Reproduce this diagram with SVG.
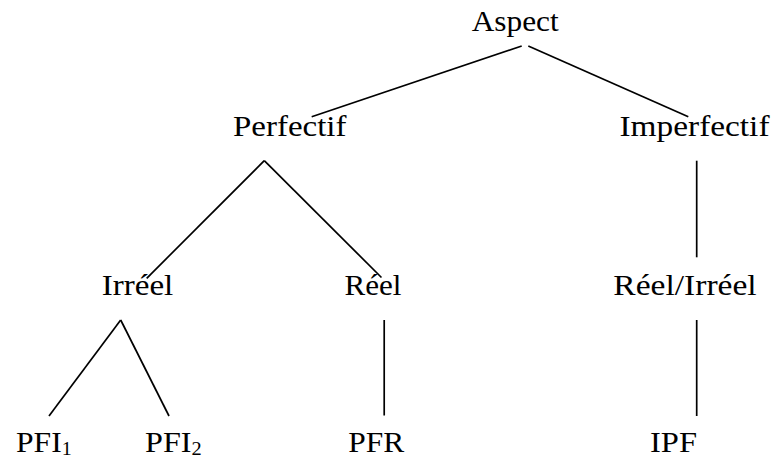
<svg xmlns="http://www.w3.org/2000/svg" width="773" height="459" viewBox="0 0 773 459">
<style>
text{font-family:"Liberation Serif","Times New Roman",serif;font-size:30px;fill:#000}
.sub{font-size:19px}
.c line{stroke:#000;stroke-width:1.7;stroke-linecap:butt}
</style>
<rect width="773" height="459" fill="#fff"/>
<g class="c" id="connectors">
<line x1="521.7" y1="46" x2="311.7" y2="116.7"/>
<line x1="528.3" y1="46" x2="688.3" y2="116.7"/>
<line x1="264.3" y1="160.7" x2="146.7" y2="278.3"/>
<line x1="264.3" y1="160.7" x2="381.5" y2="277.5"/>
<line x1="696.7" y1="160.7" x2="696.7" y2="257.3"/>
<line x1="120.7" y1="320" x2="49" y2="416"/>
<line x1="120.7" y1="320" x2="169" y2="416"/>
<line x1="384.2" y1="320" x2="384.2" y2="415.5"/>
<line x1="696.7" y1="320" x2="696.7" y2="416"/>
</g>
<g id="aspect"><text x="471.7" y="30.5" textLength="87" lengthAdjust="spacingAndGlyphs">Aspect</text></g>
<g id="perfectif"><text x="233" y="136" textLength="113.5" lengthAdjust="spacingAndGlyphs">Perfectif</text></g>
<g id="imperfectif"><text x="619.5" y="136" textLength="150" lengthAdjust="spacingAndGlyphs">Imperfectif</text></g>
<g id="irreel"><text x="101.7" y="295" textLength="71.6" lengthAdjust="spacingAndGlyphs">Irréel</text></g>
<g id="reel"><text x="344.5" y="295" textLength="57" lengthAdjust="spacingAndGlyphs">Réel</text></g>
<g id="reel-irreel"><text x="613.3" y="295" textLength="143.4" lengthAdjust="spacingAndGlyphs">Réel/Irréel</text></g>
<g id="pfi1"><text x="16" y="451.5" textLength="55.7" lengthAdjust="spacingAndGlyphs">PFI<tspan class="sub" dy="3">1</tspan></text></g>
<g id="pfi2"><text x="145" y="451.5" textLength="56.7" lengthAdjust="spacingAndGlyphs">PFI<tspan class="sub" dy="3">2</tspan></text></g>
<g id="pfr"><text x="348.3" y="451.5" textLength="56" lengthAdjust="spacingAndGlyphs">PFR</text></g>
<g id="ipf"><text x="650" y="451.5" textLength="47" lengthAdjust="spacingAndGlyphs">IPF</text></g>
</svg>
